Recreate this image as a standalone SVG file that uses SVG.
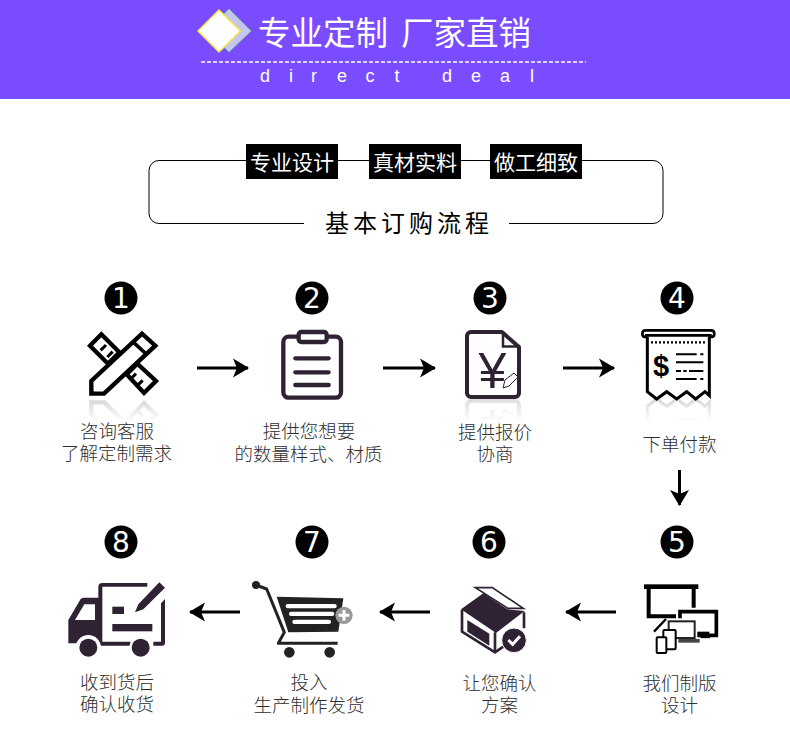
<svg xmlns="http://www.w3.org/2000/svg" width="790" height="740" viewBox="0 0 790 740">
<style>
.cjk{font-family:"Noto Sans CJK SC","Liberation Sans",sans-serif}
.lab{font-family:"Noto Sans CJK SC","Liberation Sans",sans-serif;font-size:18.500px;font-weight:300;fill:#2e2e2e;text-anchor:middle}
.num{font-family:"DejaVu Sans",sans-serif;font-size:28px;fill:#fff;text-anchor:middle}
.dot{fill:#000}
.tag{fill:#000}
.tagt{font-family:"Noto Sans CJK SC","Liberation Sans",sans-serif;font-size:21px;font-weight:400;fill:#fff;text-anchor:middle}
.conn{stroke:#000;stroke-width:3;fill:none;marker-end:url(#head)}
.dk{fill:#2f2233}
.ln{fill:none;stroke:#2f2233;stroke-linejoin:round}
.bk{fill:none;stroke:#000;stroke-linejoin:miter}
</style>
<defs>
<marker id="head" markerUnits="userSpaceOnUse" markerWidth="18" markerHeight="20" refX="15" refY="10" orient="auto"><path d="M0,0.500 L16,10 L0,19.500 L4,10 Z" fill="#000"/></marker>
<linearGradient id="fade" gradientUnits="userSpaceOnUse" x1="0" y1="396" x2="0" y2="422"><stop offset="0" stop-color="#fff" stop-opacity="0.18"/><stop offset="1" stop-color="#fff" stop-opacity="0"/></linearGradient>
<mask id="refl" maskUnits="userSpaceOnUse" x="0" y="396" width="790" height="28"><rect x="0" y="396" width="790" height="28" fill="url(#fade)"/></mask>
</defs>
<rect width="790" height="740" fill="#fff"/>
<g id="header">
<rect width="790" height="99" fill="#7a4cff"/>
<polygon points="229,9 251,31 229,52 208,31" fill="#c3c6f2" stroke="#7fc98f" stroke-width="1"/>
<polygon points="219,10 240.500,31 219,52 198,31" fill="#fff" stroke="#f5e640" stroke-width="1.500"/>
<text class="cjk" x="258" y="45" font-size="32.500" fill="#fff">专业定制</text>
<text class="cjk" x="401" y="45" font-size="32.500" fill="#fff">厂家直销</text>
<line x1="201" y1="62" x2="586" y2="62" stroke="#fff" stroke-width="1.500" stroke-dasharray="4 2"/>
<text font-family="Liberation Sans, sans-serif" font-size="18" fill="#fff" text-anchor="middle" x="265 291 314 342 370 397 447 476 505 532" y="82">directdeal</text>
</g>
<g id="banner">
<path d="M304,223.500 H159 a10,10 0 0 1 -10,-10 V170.500 a10,10 0 0 1 10,-10 H653 a10,10 0 0 1 10,10 V213.500 a10,10 0 0 1 -10,10 H509" fill="none" stroke="#000" stroke-width="1"/>
<rect class="tag" x="246" y="144" width="92" height="35"/>
<rect class="tag" x="369" y="144" width="92" height="35"/>
<rect class="tag" x="490" y="144" width="92" height="35"/>
<text class="tagt" x="292" y="170">专业设计</text>
<text class="tagt" x="415" y="170">真材实料</text>
<text class="tagt" x="536" y="170">做工细致</text>
<text class="cjk" x="325" y="232" font-size="24" letter-spacing="4" fill="#000">基本订购流程</text>
</g>
<g id="connectors">
<line class="conn" x1="197" y1="368" x2="248" y2="368"/>
<line class="conn" x1="383" y1="368" x2="435" y2="368"/>
<line class="conn" x1="563" y1="368" x2="614" y2="368"/>
<line class="conn" x1="679.500" y1="470" x2="679.500" y2="505"/>
<line class="conn" x1="616" y1="612" x2="566" y2="612"/>
<line class="conn" x1="430" y1="612" x2="380" y2="612"/>
<line class="conn" x1="240" y1="612" x2="190" y2="612"/>
</g>
<g id="node1">
<circle class="dot" cx="121" cy="298" r="16.500"/><text class="num" x="121" y="308">1</text>
<g id="icon1" transform="translate(80,325) scale(.33333)">
<polygon points="30,62 64,28 118,82 84,116" fill="#fff" stroke="#000" stroke-width="13"/>
<polygon points="140,148 172,116 228,168 192,204" fill="#fff" stroke="#000" stroke-width="13"/>
<path d="M62,76 L78,60 M82,96 L98,80 M172,182 L188,166 M152,162 L168,146" stroke="#000" stroke-width="9"/>
<polygon points="34,168 34,206 72,206 226,62 186,26" fill="#fff" stroke="#000" stroke-width="13"/>
<path d="M158,50 L202,90" stroke="#000" stroke-width="11"/>
<polygon points="30,188 30,210 52,210" fill="#000"/>
</g>
<g mask="url(#refl)"><use href="#icon1" transform="translate(0,796) scale(1,-1)"/></g>
<text class="lab" x="117" y="438">咨询客服</text>
<text class="lab" x="116.500" y="460">了解定制需求</text>
</g>
<g id="node2">
<circle class="dot" cx="312" cy="298" r="16.500"/><text class="num" x="312" y="308">2</text>
<g id="icon2" transform="translate(60,280) scale(.33333)">
<rect x="670" y="170" width="173" height="183" rx="16" stroke="#2f2233" stroke-width="13" fill="#fff"/>
<rect x="716" y="156" width="84" height="30" rx="8" fill="#fff" stroke="#2f2233" stroke-width="13"/>
<path d="M706,235 H806 M706,277 H806 M706,315 H806" stroke="#2f2233" stroke-width="13" stroke-linecap="round"/>
</g>
<text class="lab" x="309" y="438">提供您想要</text>
<text class="lab" x="308.500" y="461">的数量样式、材质</text>
</g>
<g id="node3">
<circle class="dot" cx="490" cy="298" r="16.500"/><text class="num" x="490" y="308">3</text>
<g id="icon3">
<path d="M502,332 H471 a4,4 0 0 0 -4,4 V393 a4,4 0 0 0 4,4 H515 a4,4 0 0 0 4,-4 V347 Z" fill="#fff" stroke="#2f2233" stroke-width="4" stroke-linejoin="round"/>
<path d="M503,333 V346.500 H518" fill="none" stroke="#2f2233" stroke-width="2.500"/>
<text x="492.500" y="388" font-family="Liberation Sans, sans-serif" font-size="50" fill="#2f2233" text-anchor="middle">¥</text>
<path d="M503,388 L505,380 L514,373 L518,377 L509,386 Z" fill="#fff" stroke="#2f2233" stroke-width="1"/>
</g>
<g mask="url(#refl)"><use href="#icon3" transform="translate(0,798) scale(1,-1)"/></g>
<text class="lab" x="495" y="439">提供报价</text>
<text class="lab" x="495" y="461">协商</text>
</g>
<g id="node4">
<circle class="dot" cx="677" cy="298" r="16.500"/><text class="num" x="677" y="308">4</text>
<g id="icon4">
<g transform="translate(635,325) scale(.33333)">
<path d="M37,35 V200 L65,222 L95,200 L125,222 L155,200 L182,222 L210,200 L223,212 V35" fill="#fff" stroke="#000" stroke-width="9"/>
<path d="M37,36 H32 Q22,36 22,26 Q22,16 32,16 H228 Q238,16 238,26 Q238,36 228,36 H223 M30,31 H230" fill="none" stroke="#000" stroke-width="8"/>
<path d="M48,52 H215" stroke="#000" stroke-width="7" stroke-dasharray="6 6"/>
<path d="M123,88 H185 M196,88 H205 M123,112 H205 M123,138 H138 M145,138 H155 M162,138 H205 M123,162 H185 M196,162 H205" stroke="#000" stroke-width="6"/>
</g>
<text x="661" y="376" font-family="Liberation Sans, sans-serif" font-size="29" font-weight="bold" fill="#000" text-anchor="middle">$</text>
</g>
<g mask="url(#refl)"><use href="#icon4" transform="translate(0,798) scale(1,-1)"/></g>
<text class="lab" x="679.500" y="451">下单付款</text>
</g>
<g id="node5">
<circle class="dot" cx="677" cy="542" r="16.500"/><text class="num" x="677" y="552">5</text>
<g transform="translate(640,575) scale(.33333)">
<rect x="12" y="28" width="163" height="14" fill="#000"/>
<path d="M26,42 V124 H108 M161,42 V98" class="bk" stroke-width="12"/>
<path d="M120,130 V110 H229 V181 H172" class="bk" stroke-width="11"/>
<rect x="172" y="170" width="36" height="8" fill="#000"/>
<path d="M182,187 H210" stroke="#000" stroke-width="5"/>
<rect x="86" y="139" width="78" height="50" fill="#fff" stroke="#222" stroke-width="6"/>
<rect x="115" y="192" width="64" height="11" fill="#444"/>
<rect x="70" y="165" width="37" height="58" rx="3" fill="#fff" stroke="#000" stroke-width="6"/>
<rect x="50" y="187" width="29" height="47" rx="3" fill="#fff" stroke="#000" stroke-width="6"/>
<path d="M42,170 L78,132" stroke="#000" stroke-width="7"/>
</g>
<text class="lab" x="679.500" y="690">我们制版</text>
<text class="lab" x="679.500" y="712">设计</text>
</g>
<g id="node6">
<circle class="dot" cx="489" cy="542" r="16.500"/><text class="num" x="489" y="552">6</text>
<g transform="translate(450,575) scale(.33333)">
<path d="M36,105 V170 L135,232 V172 M222,112 V160" class="ln" stroke-width="8"/>
<path d="M135,232 L160,215" class="ln" stroke-width="8"/>
<polygon points="33,103 100,55 172,103 224,108 138,174" class="dk"/>
<path d="M76,38 H127 L220,100 H174 Z" fill="#fff" stroke="#2f2233" stroke-width="5"/>
<polygon points="52,135 118,176 118,212 52,170" class="dk"/>
<circle cx="192" cy="196" r="37" class="dk" stroke="#fff" stroke-width="3"/>
<path d="M175,195 L188,208 L210,184" fill="none" stroke="#fff" stroke-width="9"/>
</g>
<text class="lab" x="499.500" y="690">让您确认</text>
<text class="lab" x="499.500" y="712">方案</text>
</g>
<g id="node7">
<circle class="dot" cx="312" cy="542" r="16.500"/><text class="num" x="312" y="552">7</text>
<g transform="translate(245,575) scale(.33333)">
<circle cx="33" cy="30" r="12" fill="#222"/>
<path d="M33,30 L65,42 L118,172 L100,205 H278" fill="none" stroke="#222" stroke-width="9" stroke-linejoin="round"/>
<polygon points="95,65 295,70 280,170 130,172" fill="#222"/>
<rect x="122" y="87" width="153" height="13" rx="6" fill="#fff"/>
<rect x="132" y="110" width="136" height="13" rx="6" fill="#fff"/>
<rect x="142" y="134" width="116" height="13" rx="6" fill="#fff"/>
<circle cx="297" cy="121" r="26" fill="#999"/>
<path d="M297,105 V137 M281,121 H313" stroke="#fff" stroke-width="9"/>
<circle cx="133" cy="232" r="16" fill="#222"/>
<circle cx="254" cy="232" r="16" fill="#222"/>
</g>
<text class="lab" x="309" y="689">投入</text>
<text class="lab" x="309" y="712">生产制作发货</text>
</g>
<g id="node8">
<circle class="dot" cx="121" cy="542" r="16.500"/><text class="num" x="121" y="552">8</text>
<g transform="translate(60,575) scale(.33333)">
<path d="M25,135 L62,72 Q66,68 72,68 H115 V36 Q115,24 127,24 H262 V35 H127 V200 H212 V212 H120 V205 H25 Z" class="dk"/>
<polygon points="45,135 73,88 105,88 105,135" fill="#fff"/>
<path d="M303,85 L315,72 V205 Q315,212 308,212 H280 V200 H303 Z" class="dk"/>
<rect x="157" y="95" width="35" height="22" class="dk"/>
<rect x="157" y="147" width="120" height="22" class="dk"/>
<polygon points="225,112 235,88 298,22 315,38 250,103" class="dk"/>
<circle cx="85" cy="218" r="38" fill="#fff"/>
<circle cx="242" cy="218" r="34" fill="#fff"/>
<circle cx="85" cy="218" r="27" class="dk"/>
<circle cx="242" cy="218" r="27" class="dk"/>
</g>
<text class="lab" x="117" y="689">收到货后</text>
<text class="lab" x="117" y="711">确认收货</text>
</g>
</svg>
